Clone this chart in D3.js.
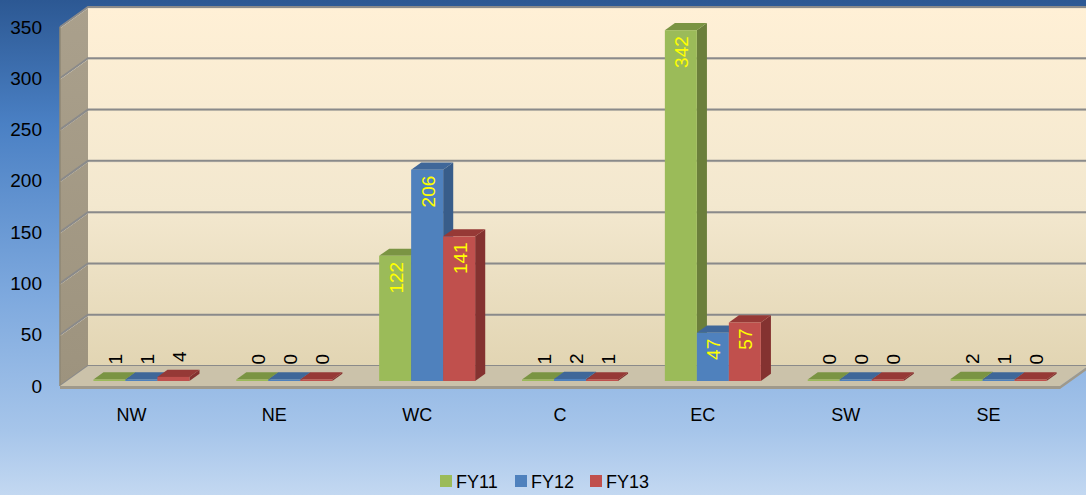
<!DOCTYPE html>
<html>
<head>
<meta charset="utf-8">
<script src="https://cdn.jsdelivr.net/npm/d3@7"></script>
<style>
  html, body { margin: 0; padding: 0; background: #c3d8f1; }
  svg { display: block; font-family: "Liberation Sans", Arial, sans-serif; }
</style>
</head>
<body>
<svg id="chart" width="1086" height="495"></svg>
<script>
// Regions and yearly counts
const categories = ["NW", "NE", "WC", "C", "EC", "SW", "SE"];
const seriesNames = ["FY11", "FY12", "FY13"];
const fy11 = [1, 0, 122, 1, 342, 0, 2];
const fy12 = [1, 0, 206, 2, 47, 0, 1];
const fy13 = [4, 0, 141, 1, 57, 0, 0];
const yTicks = [0, 50, 100, 150, 200, 250, 300, 350];

const seriesValues = [fy11, fy12, fy13];
const palette = {
  FY11: { front: "#9bbb59", side: "#6b7f3b", top: "#7a9443" },
  FY12: { front: "#4f81bd", side: "#385d8a", top: "#3f6799" },
  FY13: { front: "#c0504d", side: "#843230", top: "#963936" }
};

const W = 1086, H = 495;
const svg = d3.select("#chart");
const defs = svg.append("defs");

// 3-D box geometry: front plane and full depth offset
const DX = 28, DY = -20;
const proj = (x, y, f) => [x + f * DX, y + f * DY];

const x = d3.scaleBand().domain(categories).range([60, 1060]);
const y = d3.scaleLinear().domain([0, 350]).range([386, 27]);
const groupW = 96;
const xs = d3.scaleBand().domain(seriesNames).range([0, groupW]);

// Background gradient
const bg = defs.append("linearGradient").attr("id", "bg").attr("x1", 0).attr("y1", 0).attr("x2", 0).attr("y2", 1);
[[0, "#2c5893"], [0.25, "#4a80c4"], [0.6, "#7ea9de"], [0.87, "#a6c5ea"], [1, "#c3d8f1"]]
  .forEach(([o, c]) => bg.append("stop").attr("offset", o).attr("stop-color", c));
svg.append("rect").attr("width", W).attr("height", H).attr("fill", "url(#bg)");

// Back wall gradient
const wallG = defs.append("linearGradient").attr("id", "wall").attr("x1", 0).attr("y1", 0).attr("x2", 0).attr("y2", 1);
[[0, "#fff0d6"], [0.55, "#f3e8cf"], [1, "#e2d5b3"]]
  .forEach(([o, c]) => wallG.append("stop").attr("offset", o).attr("stop-color", c));
const sideG = defs.append("linearGradient").attr("id", "side").attr("x1", 0).attr("y1", 0).attr("x2", 0).attr("y2", 1);
[[0, "#aaa08c"], [1, "#9d937e"]]
  .forEach(([o, c]) => sideG.append("stop").attr("offset", o).attr("stop-color", c));

const poly = pts => "M" + pts.map(p => p.join(",")).join("L") + "Z";

const x0 = 60, x1 = W + 2;
const yTop = y(350), yBase = y(0);

// Left side wall
svg.append("path")
  .attr("d", poly([[x0, yTop], proj(x0, yTop, 1), proj(x0, yBase, 1), [x0, yBase]]))
  .attr("fill", "url(#side)");

// Back wall
const bTop = proj(x0, yTop, 1), bBase = proj(x0, yBase, 1);
svg.append("rect")
  .attr("x", bTop[0]).attr("y", bTop[1])
  .attr("width", x1 - bTop[0]).attr("height", bBase[1] - bTop[1])
  .attr("fill", "url(#wall)");

// Gridlines on both walls
const grid = svg.append("g");
yTicks.forEach(v => {
  const f = [x0, y(v)], b = proj(x0, y(v), 1);
  grid.append("path")
    .attr("d", `M${f[0]},${f[1] + 1}L${b[0]},${b[1] + 1}L${x1},${b[1] + 1}`)
    .attr("fill", "none").attr("stroke", "#e4dac4").attr("stroke-width", 1);
  grid.append("path")
    .attr("d", `M${f[0]},${f[1]}L${b[0]},${b[1]}L${x1},${b[1]}`)
    .attr("fill", "none").attr("stroke", "#8a8a8a").attr("stroke-width", 2);
});
// Left edge of side wall
svg.append("line").attr("x1", x0).attr("x2", x0).attr("y1", yTop).attr("y2", yBase)
  .attr("stroke", "#8f8775").attr("stroke-width", 1.5);

// Floor
const floorR = 1060;
svg.append("path")
  .attr("d", poly([[x0, yBase], proj(x0, yBase, 1), proj(floorR, yBase, 1), [floorR, yBase]]))
  .attr("fill", "#cbc2aa");
svg.append("path")
  .attr("d", poly([[x0, yBase], [floorR, yBase], proj(floorR, yBase, 1), proj(floorR, yBase + 3, 1), [floorR, yBase + 3], [x0, yBase + 3]]))
  .attr("fill", "#9f998b");

// Bars
const F0 = 0.25, FD = 0.36;
const bars = [];
categories.forEach((c, ci) => {
  seriesNames.forEach((s, si) => {
    bars.push({ cat: c, series: s, value: seriesValues[si][ci] });
  });
});
const barX = d => x(d.cat) + (x.bandwidth() - groupW) / 2 + 3 + xs(d.series) + F0 * DX;
const baseY = y(0) + F0 * DY;
const topY = d => Math.min(y(d.value) + F0 * DY, baseY - 1.5);

const bw = xs.bandwidth();
const barG = svg.append("g").selectAll("g").data(bars).join("g");
barG.append("path") // right side face
  .attr("d", d => {
    const xl = barX(d) + bw, t = topY(d);
    return poly([[xl, t], [xl + FD * DX, t + FD * DY], [xl + FD * DX, baseY + FD * DY], [xl, baseY]]);
  })
  .attr("fill", d => palette[d.series].side);
barG.append("path") // top face
  .attr("d", d => {
    const xl = barX(d), t = topY(d);
    return poly([[xl, t], [xl + FD * DX, t + FD * DY], [xl + bw + FD * DX, t + FD * DY], [xl + bw, t]]);
  })
  .attr("fill", d => palette[d.series].top);
barG.append("rect") // front face
  .attr("x", d => barX(d)).attr("y", d => topY(d))
  .attr("width", bw).attr("height", d => baseY - topY(d))
  .attr("fill", d => palette[d.series].front);

// Value labels: inside tall bars in yellow, above short bars in black
const inside = d => d.value >= 30;
svg.append("g").selectAll("text").data(bars).join("text")
  .attr("transform", d => {
    const cx = barX(d) + bw / 2;
    return inside(d)
      ? `translate(${cx + 1},${topY(d) + 6}) rotate(-90)`
      : `translate(${cx + 6},${topY(d) - 15}) rotate(-90)`;
  })
  .attr("text-anchor", d => inside(d) ? "end" : "start")
  .attr("dominant-baseline", "central")
  .attr("font-size", 19)
  .attr("fill", d => inside(d) ? "#ffff00" : "#000")
  .text(d => d.value);

// Value axis
const yAxis = svg.append("g").attr("transform", `translate(${x0},0)`)
  .call(d3.axisLeft(y).tickValues(yTicks).tickSize(0).tickPadding(18));
yAxis.select(".domain").remove();
yAxis.selectAll("text").attr("font-size", 19).attr("fill", "#000")
  .style("font-family", "'Liberation Sans', Arial, sans-serif");

// Category axis
const xAxis = svg.append("g").attr("transform", `translate(0,${yBase})`)
  .call(d3.axisBottom(x).tickSize(0).tickPadding(22));
xAxis.select(".domain").remove();
xAxis.selectAll("text").attr("font-size", 18).attr("fill", "#000")
  .style("font-family", "'Liberation Sans', Arial, sans-serif");

// Legend
const legendX = d3.scalePoint().domain(seriesNames).range([440, 590]);
const leg = svg.append("g").selectAll("g").data(seriesNames).join("g")
  .attr("transform", s => `translate(${legendX(s)},475)`);
leg.append("rect").attr("width", 12).attr("height", 12).attr("fill", s => palette[s].front);
leg.append("text").attr("x", 16).attr("y", 12.5).attr("font-size", 18).attr("fill", "#000").text(s => s);
</script>
</body>
</html>
